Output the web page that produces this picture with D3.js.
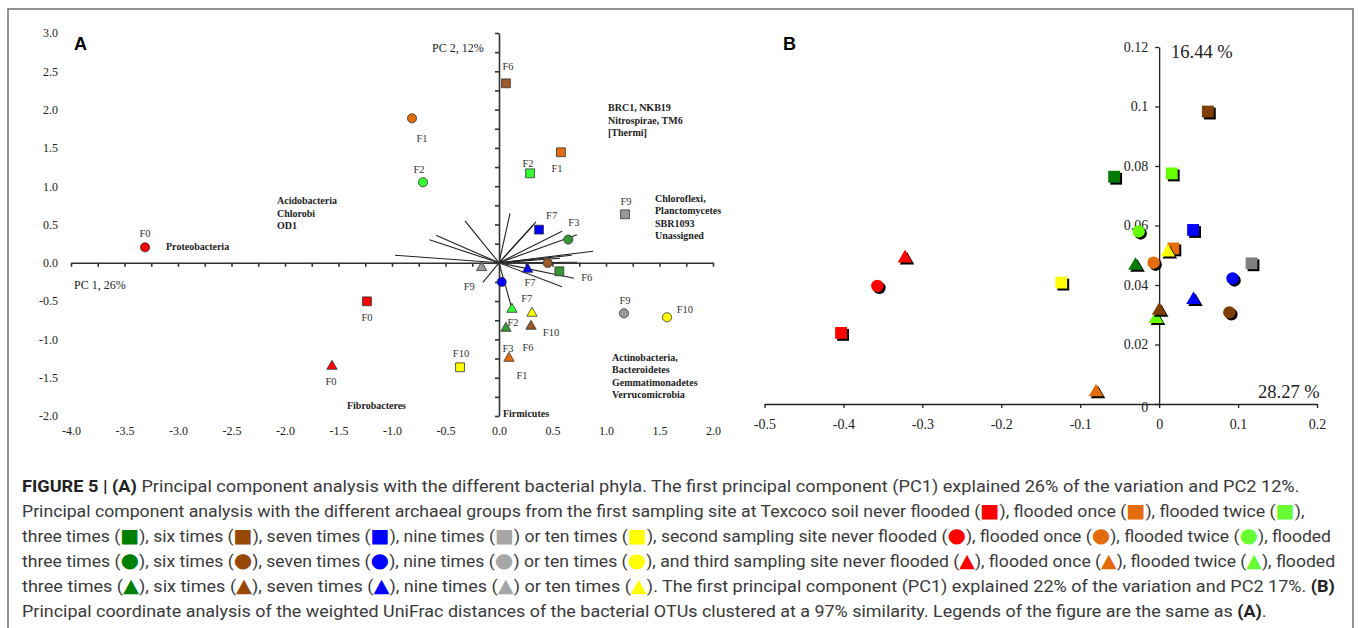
<!DOCTYPE html>
<html>
<head>
<meta charset="utf-8">
<script src="https://cdn.jsdelivr.net/npm/d3@7"></script>
<style>
body{margin:0;background:#fff}
svg{display:block}
.serif{font-family:"Liberation Serif","Times New Roman",serif}
.cap{font-family:Roboto,"Liberation Sans",sans-serif;white-space:pre}
</style>
</head>
<body>
<svg id="fig" width="1358" height="628"></svg>
<script>

// ---------- panel A : PCA scores and phyla vectors ----------
const colorsA = {F0:'#ff0000',F1:'#e46c0a',F2:'#33ff33',F3:'#339933',F6:'#9c5b2a',F7:'#0000ff',F9:'#999999',F10:'#ffff00'};

// [shape, flooding, PC1, PC2]
const pcaPoints = [
	['square','F6',0.065,2.343],
	['circle','F1',-0.813,1.886],
	['circle','F2',-0.710,1.051],
	['square','F1',0.579,1.443],
	['square','F2',0.290,1.168],
	['square','F9',1.178,0.633],
	['square','F7',0.374,0.433],
	['circle','F3',0.648,0.303],
	['circle','F6',0.455,-0.002],
	['square','F3',0.564,-0.111],
	['triangle','F7',0.268,-0.085],
	['triangle','F9',-0.162,-0.063],
	['circle','F7',0.025,-0.250],
	['triangle','F2',0.121,-0.607],
	['triangle','F10',0.308,-0.659],
	['triangle','F3',0.065,-0.855],
	['triangle','F6',0.299,-0.829],
	['triangle','F1',0.093,-1.247],
	['square','F10',-0.364,-1.364],
	['circle','F9',1.168,-0.659],
	['circle','F10',1.570,-0.711],
	['circle','F0',-3.308,0.202],
	['square','F0',-1.234,-0.503],
	['triangle','F0',-1.561,-1.351]
];

// point tags [text, PC1, PC2]
const pcaTags = [
	['F6',0.084,2.565],['F1',-0.72,1.625],['F2',-0.748,1.22],['F1',0.542,1.234],
	['F2',0.271,1.30],['F9',1.187,0.803],['F7',0.492,0.62],['F3',0.70,0.533],
	['F6',0.82,-0.193],['F7',0.29,-0.25],['F9',-0.278,-0.307],['F7',0.259,-0.467],
	['F2',0.131,-0.777],['F10',0.486,-0.907],['F6',0.271,-1.103],['F3',0.084,-1.116],
	['F1',0.215,-1.469],['F10',-0.355,-1.182],['F9',1.178,-0.49],['F10',1.738,-0.607],
	['F0',-3.308,0.385],['F0',-1.234,-0.711],['F0',-1.570,-1.547]
];

// phyla loading vectors (end points)
const loadX = [0.103,0.346,0.318,0.589,0.729,0.879,0.68,0.57,0.729,0.70,0.589,-0.318,-0.589,-0.65,-0.972,-0.15,0.121];
const loadY = [0.646,0.535,0.49,0.411,0.366,0.150,0.098,0.059,0.007,-0.202,-0.313,0.548,0.359,0.30,0.098,-0.255,-0.60];

// phyla names [lines, PC1, PC2 of first line]
const phyla = [
	[['Acidobacteria','Chlorobi','OD1'],-2.075,0.81],
	[['Proteobacteria'],-3.112,0.219],
	[['BRC1, NKB19','Nitrospirae, TM6','[Thermi]'],1.019,2.026],
	[['Chloroflexi,','Planctomycetes','SBR1093','Unassigned'],1.458,0.845],
	[['Actinobacteria,','Bacteroidetes','Gemmatimonadetes','Verrucomicrobia'],1.056,-1.230],
	[['Fibrobacteres'],-1.421,-1.860],
	[['Firmicutes'],0.037,-1.961]
];

// ---------- panel B : PCoA weighted UniFrac ----------
const colorsB = {F0:'#ff0000',F1:'#e46c0a',F2:'#66ff00',F3:'#007a00',F6:'#7f3f00',F7:'#0000ff',F9:'#808080',F10:'#ffff00'};

const pcoaPoints = [
	['square','F0',-0.403,0.0239],
	['square','F1',0.018,0.0523],
	['square','F2',0.016,0.0775],
	['square','F3',-0.057,0.0764],
	['square','F6',0.0617,0.0983],
	['square','F7',0.043,0.0585],
	['square','F9',0.117,0.0473],
	['square','F10',-0.124,0.0408],
	['circle','F0',-0.357,0.0397],
	['circle','F1',-0.007,0.0475],
	['circle','F2',-0.026,0.058],
	['circle','F6',0.089,0.0308],
	['circle','F7',0.093,0.0422],
	['triangle','F0',-0.322,0.049],
	['triangle','F1',-0.080,0.0040],
	['triangle','F2',-0.004,0.0286],
	['triangle','F6',0.0,0.0314],
	['triangle','F3',-0.030,0.0465],
	['triangle','F7',0.0435,0.035],
	['triangle','F10',0.011,0.051]
];

const xTicksB = [-0.5,-0.4,-0.3,-0.2,-0.1,0,0.1,0.2];
const yTicksB = [0,0.02,0.04,0.06,0.08,0.1,0.12];

// ---------- caption ----------
const legendColors = {F0:'#ff0000',F1:'#e46c0a',F2:'#66ff33',F3:'#008000',F6:'#974706',F7:'#0000ff',F9:'#a6a6a6',F10:'#ffff00'};
const glyph = {square:'\u25A0',circle:'\u25CF',triangle:'\u25B2'};
const ic = (s,f) => ({i:s,c:legendColors[f]});

const capLines = [
	[{b:'FIGURE 5 | (A)'},' Principal component analysis with the different bacterial phyla. The first principal component (PC1) explained 26% of the variation and PC2 12%.'],
	['Principal component analysis with the different archaeal groups from the first sampling site at Texcoco soil never flooded (',ic('square','F0'),'), flooded once (',ic('square','F1'),'), flooded twice (',ic('square','F2'),'),'],
	['three times (',ic('square','F3'),'), six times (',ic('square','F6'),'), seven times (',ic('square','F7'),'), nine times (',ic('square','F9'),') or ten times (',ic('square','F10'),'), second sampling site never flooded (',ic('circle','F0'),'), flooded once (',ic('circle','F1'),'), flooded twice (',ic('circle','F2'),'), flooded'],
	['three times (',ic('circle','F3'),'), six times (',ic('circle','F6'),'), seven times (',ic('circle','F7'),'), nine times (',ic('circle','F9'),') or ten times (',ic('circle','F10'),'), and third sampling site never flooded (',ic('triangle','F0'),'), flooded once (',ic('triangle','F1'),'), flooded twice (',ic('triangle','F2'),'), flooded'],
	['three times (',ic('triangle','F3'),'), six times (',ic('triangle','F6'),'), seven times (',ic('triangle','F7'),'), nine times (',ic('triangle','F9'),') or ten times (',ic('triangle','F10'),'). The first principal component (PC1) explained 22% of the variation and PC2 17%. ',{b:'(B)'}],
	['Principal coordinate analysis of the weighted UniFrac distances of the bacterial OTUs clustered at a 97% similarity. Legends of the figure are the same as ',{b:'(A)'},'.']
];
const capEnds = [1300,1306,1332,1336,1336,1268];


const svg = d3.select('#fig');
const minusFix = s => s.replace('\u2212','-');
const symType = {square:d3.symbolSquare,circle:d3.symbolCircle,triangle:d3.symbolTriangle};

// outer frame
svg.append('path')
	.attr('d','M8,640V9H1353V640')
	.attr('fill','none').attr('stroke','#707070').attr('stroke-width',1.5);

//// panel A
const xA = d3.scaleLinear().domain([-4,2]).range([71,713]);
const yA = d3.scaleLinear().domain([-2,3]).range([416,33]);
const gA = svg.append('g').attr('class','serif');

// vectors first, axes over them
gA.append('g').selectAll('line')
	.data(loadX.map((x,i) => [x,loadY[i]]))
	.join('line')
	.attr('x1',xA(0)).attr('y1',yA(0))
	.attr('x2',d => xA(d[0])).attr('y2',d => yA(d[1]))
	.attr('stroke','#222').attr('stroke-width',1.1);

// axis lines through origin
const axXA = gA.append('g').attr('transform',`translate(0,${yA(0)})`)
	.call(d3.axisBottom(xA).tickValues(d3.range(-4,2.001,0.25)).tickFormat('').tickSize(4).tickSizeOuter(0));
const axYA = gA.append('g').attr('transform',`translate(${xA(0)},0)`)
	.call(d3.axisLeft(yA).tickValues(d3.range(-2,3.001,0.25)).tickFormat('').tickSize(4).tickSizeOuter(0));
[axXA,axYA].forEach(a => a.selectAll('path,line').attr('stroke','#333').attr('stroke-width',1.6));

// tick labels at the frame edges
const labXA = gA.append('g').attr('transform','translate(0,426)')
	.call(d3.axisBottom(xA).tickValues(d3.range(-4,2.001,0.5)).tickFormat(d => minusFix(d3.format('.1f')(d))).tickSize(0).tickPadding(0));
const labYA = gA.append('g').attr('transform','translate(58,0)')
	.call(d3.axisLeft(yA).tickValues(d3.range(-2,3.001,0.5)).tickFormat(d => minusFix(d3.format('.1f')(d))).tickSize(0).tickPadding(0));
[labXA,labYA].forEach(a => {
	a.select('.domain').remove();
	a.selectAll('text').attr('font-family','"Liberation Serif",serif').attr('font-size',12).attr('fill','#222');
});

// phyla names
phyla.forEach(p => {
	const t = gA.append('text')
		.attr('x',xA(p[1])).attr('y',yA(p[2]))
		.attr('font-size',10).attr('font-weight','bold').attr('fill','#222');
	p[0].forEach((s,i) => {
		t.append('tspan').attr('x',xA(p[1])).attr('y',yA(p[2]) + i*12.6).attr('dy','0.35em').text(s);
	});
});

// point tags
gA.append('g').selectAll('text')
	.data(pcaTags)
	.join('text')
	.attr('x',d => xA(d[1])).attr('y',d => yA(d[2]))
	.attr('dy','0.35em').attr('text-anchor','middle')
	.attr('font-size',10.5).attr('fill','#333')
	.text(d => d[0]);

const sizeA = {square:78,circle:66,triangle:46};
gA.append('g').selectAll('path')
	.data(pcaPoints)
	.join('path')
	.attr('transform',d => `translate(${xA(d[2])},${yA(d[3])})`)
	.attr('d',d => d3.symbol().type(symType[d[0]]).size(sizeA[d[0]])())
	.attr('fill',d => colorsA[d[1]])
	.attr('stroke','#333').attr('stroke-width',0.8);

gA.append('text').attr('x',432).attr('y',52).attr('font-size',12).attr('fill','#222').text('PC 2, 12%');
gA.append('text').attr('x',74).attr('y',289).attr('font-size',12).attr('fill','#222').text('PC 1, 26%');
svg.append('text').attr('x',74).attr('y',50).attr('font-family','"Liberation Sans",Arial,sans-serif')
	.attr('font-size',18).attr('font-weight','bold').text('A');

//// panel B
const xB = d3.scaleLinear().domain([-0.5,0.2]).range([764.5,1317]);
const yB = d3.scaleLinear().domain([0,0.12]).range([404,47]);
const gB = svg.append('g').attr('class','serif');

const fmtB = d => d === 0 ? '0' : minusFix(String(+d.toFixed(2)));
const axXB = gB.append('g').attr('transform',`translate(0,${yB(0)})`)
	.call(d3.axisBottom(xB).tickValues(xTicksB).tickFormat(fmtB).tickSize(4).tickSizeOuter(0).tickPadding(11));
const axYB = gB.append('g').attr('transform',`translate(${xB(0)},0)`)
	.call(d3.axisLeft(yB).tickValues(yTicksB).tickFormat(fmtB).tickSize(4).tickSizeOuter(0).tickPadding(7));
[axXB,axYB].forEach(a => {
	a.selectAll('path,line').attr('stroke','#222').attr('stroke-width',1.3);
	a.selectAll('text').attr('font-family','"Liberation Serif",serif').attr('font-size',14).attr('fill','#222');
});
axYB.selectAll('.tick').filter(d => d === 0).select('text').attr('dy','0.5em');

gB.append('text').attr('x',1171).attr('y',58).attr('font-size',18.5).attr('fill','#222').text('16.44 %');
gB.append('text').attr('x',1258).attr('y',398).attr('font-size',18.5).attr('fill','#222').text('28.27 %');
svg.append('text').attr('x',783).attr('y',50).attr('font-family','"Liberation Sans",Arial,sans-serif')
	.attr('font-size',18).attr('font-weight','bold').text('B');

const sizeB = {square:140,circle:122,triangle:92};
const markB = gB.append('g').selectAll('g')
	.data(pcoaPoints)
	.join('g')
	.attr('transform',d => `translate(${xB(d[2])},${yB(d[3])})`);
markB.append('path')
	.attr('transform','translate(2,2)')
	.attr('d',d => d3.symbol().type(symType[d[0]]).size(sizeB[d[0]])())
	.attr('fill','#000');
markB.append('path')
	.attr('d',d => d3.symbol().type(symType[d[0]]).size(sizeB[d[0]])())
	.attr('fill',d => colorsB[d[1]]);

//// caption
const gC = svg.append('g').attr('class','cap').attr('fill','#3a3a3a');
capLines.forEach((line,li) => {
	const y = 492 + li*25;
	const t = gC.append('text').attr('font-size',16.5);
	line.forEach(seg => {
		if (typeof seg === 'string') t.append('tspan').text(seg);
		else if (seg.b) t.append('tspan').attr('font-weight','bold').attr('fill','#222').text(seg.b);
		else t.append('tspan').attr('font-family','"DejaVu Sans",sans-serif')
			.attr('font-size',seg.i === 'circle' ? 20 : 19).attr('fill',seg.c).text(glyph[seg.i]);
	});
	const w = t.node().getComputedTextLength();
	t.attr('transform',`translate(22,${y}) scale(${(capEnds[li]-22)/w},1)`);
});

</script>
</body>
</html>
